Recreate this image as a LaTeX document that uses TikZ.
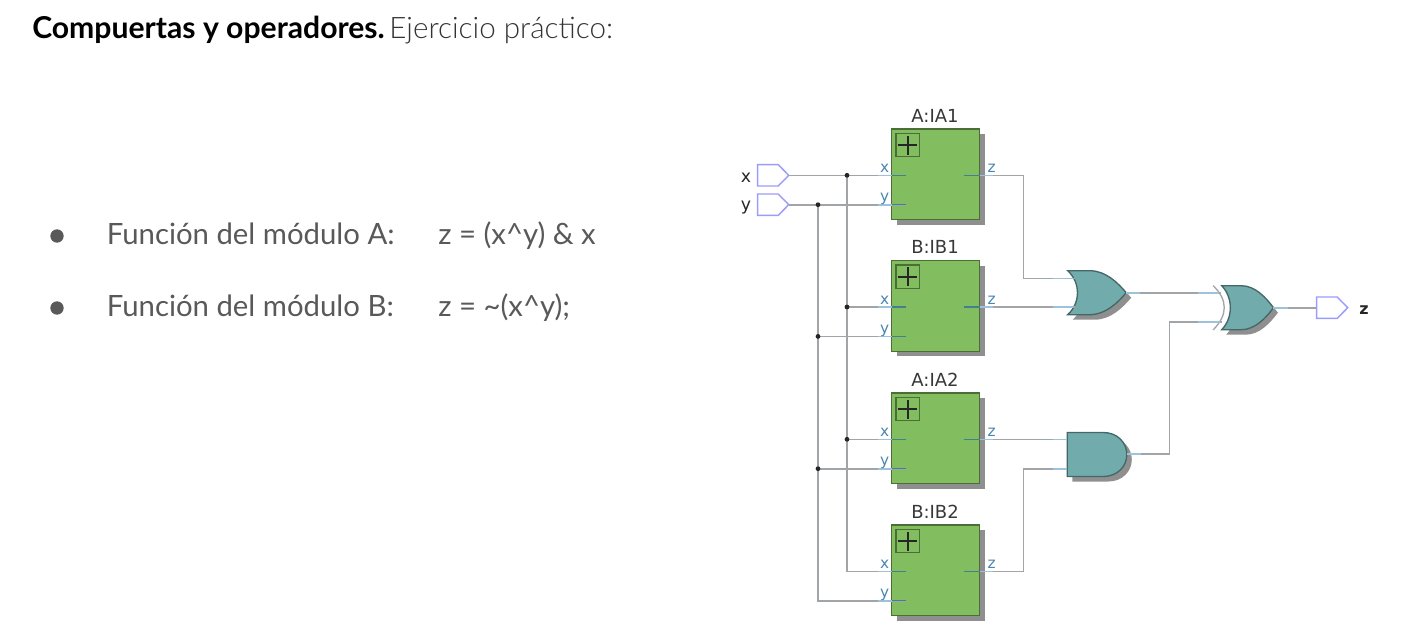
\documentclass[tikz,border=0pt]{standalone}
\usepackage{fontspec}
\setmainfont{Lato}
\newfontfamily\latolight{Lato Light}
\newfontfamily\qfont{DejaVu Sans}
\usetikzlibrary{shadows}
\definecolor{modgreen}{HTML}{82BE5F}
\definecolor{gateteal}{HTML}{72ABAB}
\definecolor{shadowgray}{HTML}{8F8F8F}
\definecolor{wiregray}{HTML}{A2A5A7}
\definecolor{stubdark}{HTML}{43808E}
\definecolor{stublight}{HTML}{9CC2DC}
\definecolor{portblue}{HTML}{4A86AD}
\definecolor{pinblue}{HTML}{9C9CFF}
\definecolor{listgray}{HTML}{595959}
\newcommand{\orpath}{(0,-22) -- (22,-22) .. controls (38,-22) and (50,-10) .. (58.5,0) .. controls (50,10) and (38,22) .. (22,22) -- (0,22) .. controls (13,10) and (13,-10) .. (0,-22) -- cycle}
\newcommand{\andpath}{(0,-22) -- (36,-22) .. controls (50,-22) and (59.5,-12) .. (59.5,0) .. controls (59.5,12) and (50,22) .. (36,22) -- (0,22) -- cycle}
\newcommand{\pinpath}{(0,-10.7) -- (20.5,-10.7) -- (31,0) -- (20.5,10.7) -- (0,10.7) -- cycle}
\tikzset{
    wire/.style = {draw=wiregray, line width=1.2pt},
    stubin/.style = {draw=stubdark, line width=1pt},
    stubout/.style = {draw=stublight, line width=1.2pt},
    module/.style = {draw=black!42!modgreen, line width=1pt, fill=modgreen, minimum width=66pt, minimum height=68pt, inner sep=0pt,
        drop shadow={shadow xshift=3.8pt, shadow yshift=-3.8pt, fill=shadowgray, opacity=1}},
    plusbox/.style = {draw=black!42!modgreen, line width=.9pt, fill=modgreen, minimum size=17.6pt, inner sep=0pt},
    junction/.style = {circle, fill=black!85, inner sep=0pt, minimum size=3.6pt},
    title/.style = {font=\qfont\fontsize{13.5}{14}\selectfont, text=black!78, inner sep=0pt, anchor=base},
    portlabel/.style = {font=\qfont\fontsize{11.5}{12}\selectfont, text=portblue, inner sep=0pt, anchor=base},
    iolabel/.style = {font=\qfont\fontsize{13}{14}\selectfont, text=black!85, inner sep=0pt},
    bodygate/.style = {draw=black!40!gateteal, line width=1pt, fill=gateteal},
    listtext/.style = {inner sep=0pt, anchor=base west, text=listgray, font=\fontsize{22}{24}\selectfont},
    pics/orgate/.style = {code={
        \fill[shadowgray, shift={(5,5)}] \orpath;
        \path[bodygate] \orpath;
    }},
    pics/andgate/.style = {code={
        \fill[shadowgray, shift={(5,5)}] \andpath;
        \path[bodygate] \andpath;
    }},
    pics/iopin/.style = {code={
        \draw[pinblue, line width=1.1pt, fill=white] \pinpath;
    }},
}
\begin{document}
\begin{tikzpicture}[x=.75pt, y=-.75pt]
    \useasboundingbox (0,0) rectangle (1402,632);

    % text on the left
    \node[inner sep=0pt, anchor=base west] (head) at (32,38.3) {\fontsize{22.6}{24}\selectfont\textbf{Compuertas y operadores.}\hspace{3.5pt}{\latolight\fontsize{22.2}{24}\selectfont\color{black!80}Ejercicio práctico:}};
    \node[circle, fill=listgray, inner sep=0pt, minimum size=10pt] (bula) at (57,236) {};
    \node[circle, fill=listgray, inner sep=0pt, minimum size=10pt] (bulb) at (57,308) {};
    \node[listtext] (funa) at (106.5,244.8) {Función del módulo A:};
    \node[listtext] (funb) at (106.5,316.8) {Función del módulo B:};
    \node[listtext] (expa) at (438,244.8) {z = (x\^{}y) \& x};
    \node[listtext] (expb) at (438,316.8) {z = \textasciitilde(x\^{}y);};

    % modules
    \foreach \nm/\txt/\cy in {ia1/A:IA1/174.3, ib1/B:IB1/306, ia2/A:IA2/438.3, ib2/B:IB2/570.3} {
        \node[module] (\nm) at (935.7,\cy) {};
        \node[plusbox] (\nm plus) at (907.7,\cy-29.3) {};
        \draw[black!85, line width=1.6pt] (\nm plus.center) ++(-9.5,0) -- ++(19,0) (\nm plus.center) ++(0,-9.5) -- ++(0,19);
        \node[title] (\nm title) at (935,\cy-52.3) {\txt};
        \coordinate (\nm x) at (906,\cy+1);
        \coordinate (\nm y) at (906,\cy+30.4);
        \coordinate (\nm z) at (964,\cy+1);
    }

    % gates
    \pic at (1067.7,292.7) {orgate};
    \pic at (1067.3,454.5) {andgate};
    \pic[xscale=.885] at (1221.7,307.7) {orgate};
    \draw[wiregray, line width=1pt] (1213,285.5) .. controls (1228,300) and (1228,315) .. (1213,330);

    \coordinate (or1a) at (1075,278.3);
    \coordinate (or1b) at (1075,307);
    \coordinate (or1o) at (1126,292.7);
    \coordinate (an1a) at (1067.3,439.3);
    \coordinate (an1b) at (1067.3,468.7);
    \coordinate (an1o) at (1126.7,454);
    \coordinate (xo1a) at (1221,292.7);
    \coordinate (xo1b) at (1222,322);
    \coordinate (xo1o) at (1273.3,307.7);

    % io pins
    \pic at (757.7,175.3) {iopin};
    \pic at (757.7,204.7) {iopin};
    \pic at (1316.7,307.7) {iopin};
    \coordinate (xin) at (788.7,175.3);
    \coordinate (yin) at (788.7,204.7);
    \coordinate (zout) at (1316.7,307.7);
    \node[iolabel] (xlab) at (746,177.5) {x};
    \node[iolabel] (ylab) at (746,207.5) {y};
    \node[iolabel, font=\qfont\bfseries\fontsize{12}{14}\selectfont] (zlab) at (1364,310) {z};

    % bus points
    \coordinate (xbus) at (847,600);
    \coordinate (ybus) at (818,600);
    \coordinate (cz1) at (1023.3,278.3);
    \coordinate (cz2) at (1023.3,468.7);
    \coordinate (cz3) at (1169.3,322);

    \draw[wire] (xin) -- (ia1x);
    \draw[wire] (yin) -- (ia1y);
    \draw[wire] (xbus |- ia1x) |- (ib2x);
    \draw[wire] (ybus |- ia1y) |- (ib2y);
    \draw[wire] (xbus |- ib1x) -- (ib1x);
    \draw[wire] (ybus |- ib1y) -- (ib1y);
    \draw[wire] (xbus |- ia2x) -- (ia2x);
    \draw[wire] (ybus |- ia2y) -- (ia2y);
    \draw[wire] (ia1z) -| (cz1) -- (or1a);
    \draw[wire] (ib1z) -- (or1b);
    \draw[wire] (ia2z) -- (an1a);
    \draw[wire] (ib2z) -| (cz2) -- (an1b);
    \draw[wire] (or1o) -- (xo1a);
    \draw[wire] (an1o) -| (cz3) -- (xo1b);
    \draw[wire] (xo1o) -- (zout);

    \node[junction] (jx1) at (xbus |- ia1x) {};
    \node[junction] (jx2) at (xbus |- ib1x) {};
    \node[junction] (jx3) at (xbus |- ia2x) {};
    \node[junction] (jy1) at (ybus |- ia1y) {};
    \node[junction] (jy2) at (ybus |- ib1y) {};
    \node[junction] (jy3) at (ybus |- ia2y) {};

    % pin stubs and port names
    \foreach \nm in {ia1, ib1, ia2, ib2} {
        \draw[stubout] (\nm x) ++(-28,0) -- ++(13.7,0);
        \draw[stubin] (\nm x) ++(-14.3,0) -- (\nm x);
        \draw[stubout] (\nm y) ++(-28,0) -- ++(13.7,0);
        \draw[stubin] (\nm y) ++(-14.3,0) -- (\nm y);
        \draw[stubin] (\nm z) -- ++(15.7,0);
        \draw[stubout] (\nm z) ++(15.7,0) -- ++(13.3,0);
        \node[portlabel] (\nm xl) at ([shift={(-21.3,-3)}]\nm x) {x};
        \node[portlabel] (\nm yl) at ([shift={(-21.3,-3)}]\nm y) {y};
        \node[portlabel] (\nm zl) at ([shift={(27.7,-3)}]\nm z) {z};
    }
    \draw[stubout] (1053,278.3) -- (1073,278.3);
    \draw[stubout] (1053,307) -- (1073,307);
    \draw[stubout] (1053,439.3) -- (an1a);
    \draw[stubout] (1053,468.7) -- (an1b);
    \draw[stubout] (or1o) -- ++(14,0);
    \draw[stubout] (an1o) -- ++(14,0);
    \draw[stubout] (1198,292.7) -- (1219,292.7);
    \draw[stubout] (1198,322) -- (1220,322);
    \draw[stubout] (xo1o) -- ++(15,0);
\end{tikzpicture}
\end{document}
